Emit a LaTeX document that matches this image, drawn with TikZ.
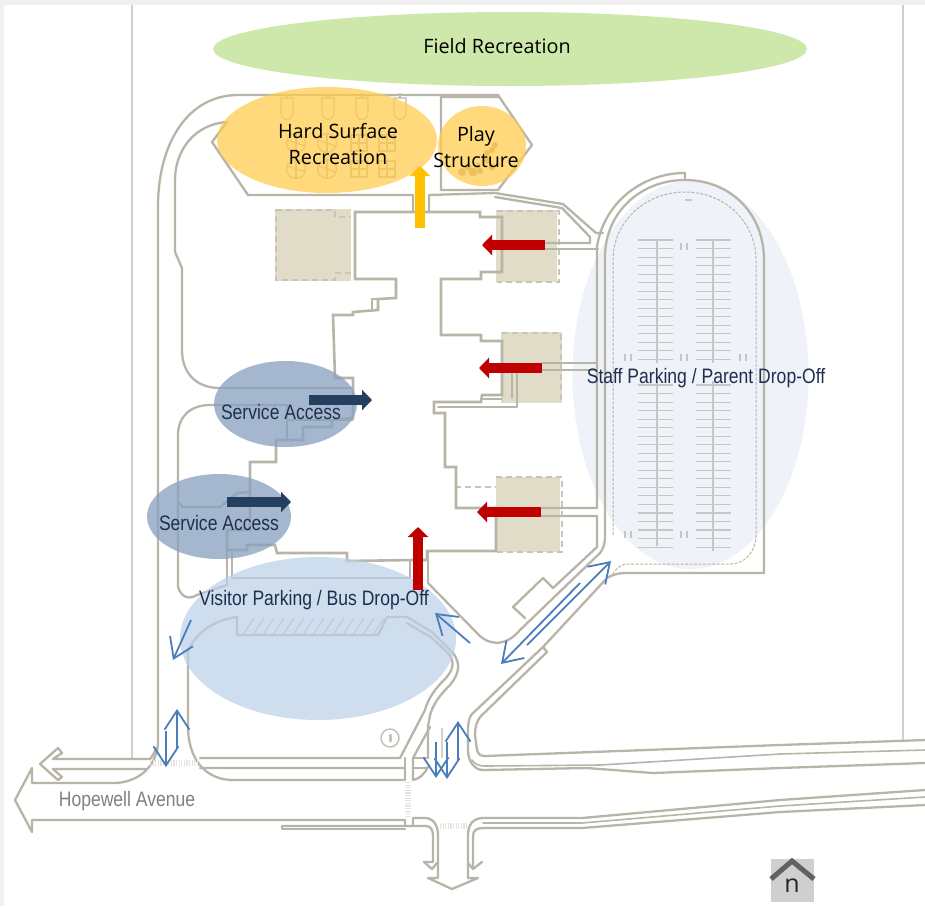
\documentclass[tikz,border=0pt]{standalone}
\usepackage{fontspec}
\usetikzlibrary{arrows.meta}
\newfontfamily\labelfont{Open Sans}
\newfontfamily\narrowfont[FakeStretch=0.84]{Liberation Sans}
\definecolor{road}{HTML}{B7B4A8}
\definecolor{lightroad}{HTML}{D2D0C8}
\definecolor{stall}{HTML}{C6C6C2}
\definecolor{beige}{HTML}{E0DCC8}
\definecolor{dashgray}{HTML}{C8C5B5}
\definecolor{redarrow}{HTML}{C00000}
\definecolor{amberarrow}{HTML}{FFC000}
\definecolor{navyarrow}{HTML}{243F60}
\definecolor{thinblue}{HTML}{4A7EBB}
\definecolor{inkblue}{HTML}{1F2F4F}
\definecolor{fieldgreen}{RGB}{206,232,172}
\definecolor{sunzone}{RGB}{255,205,79}
\definecolor{servicezone}{RGB}{136,160,192}
\definecolor{visitorzone}{RGB}{188,208,231}
\definecolor{staffzone}{HTML}{EFF2F8}
\tikzset{
  x=1pt,y=-1pt,
  roadline/.style={draw=road,line width=2.3pt,line join=round,line cap=round},
  thinroad/.style={draw=road,line width=1.6pt,line join=round,line cap=round},
  wall/.style={draw=road,line width=2.6pt,line join=miter},
  boundary/.style={draw=lightroad,line width=1.4pt},
  stallline/.style={draw=stall,line width=1.1pt},
  dashedge/.style={draw=dashgray,line width=1.3pt,dash pattern=on 6pt off 4pt},
  courtline/.style={draw=road!90!white,line width=1.2pt},
  crosswalk/.style={draw=lightroad!60!white,line width=6pt,dash pattern=on 1.2pt off 1.4pt},
  wing/.style={fill=beige,draw=none},
  block/.style={line width=10pt,-{Triangle[length=10pt,width=20pt]}},
  flow/.style={draw=thinblue,line width=1.8pt,-{Straight Barb[length=19pt,width=25pt,line width=1.8pt]}},
  softlabel/.style={font=\labelfont\fontsize{19.8}{25.5}\selectfont,text=black,align=center,inner sep=0pt},
  zonelabel/.style={font=\narrowfont\fontsize{20.9}{24}\selectfont,text=inkblue,inner sep=0pt},
}
\begin{document}
\begin{tikzpicture}
\useasboundingbox (0,0) rectangle (925,906);
\fill[black!6] (0,0) rectangle (925,906);
\fill[white] (4,5) rectangle (925,906);

% staff parking zone lies under the plan
\fill[staffzone] (690.5,375) ellipse[x radius=118,y radius=194];

% property boundaries
\draw[boundary] (132,5) -- (132,759);
\draw[boundary] (903,5) -- (903,741);

% wings
\fill[wing] (275,209) rectangle (351,281);
\fill[wing] (496,210) rectangle (557,282);
\fill[wing] (501,332) rectangle (562,403);
\fill[wing] (496,477) rectangle (560,552);
\draw[dashedge] (276,210) -- (335,210) -- (335,217) -- (351,217);
\draw[dashedge] (351,273) -- (335,273) -- (335,280) -- (276,280) -- (276,210);
\draw[dashedge] (497,211) -- (559,211) -- (559,282) -- (497,282);
\draw[dashedge] (502,333) -- (561,333) -- (561,403);
\draw[dashedge] (455,487) -- (496,487);
\draw[dashedge] (496,477) -- (562,477) -- (562,552) -- (496,552);

% building outline
\draw[wall] (355,212) -- (480,212) -- (480,217) -- (502,217) -- (502,272) -- (481,272) -- (481,279) -- (441,279) -- (441,335) -- (481,335) -- (481,341) -- (502,341) -- (502,395) -- (482,395) -- (481,402) -- (434,402) -- (434,413) -- (445,413) -- (445,467) -- (456,467) -- (456,508) -- (496,508) -- (496,551) -- (427,551) -- (427,560) -- (413,560) -- (347,561) -- (347,553) -- (277,553) -- (275,545) -- (247,545) -- (247,550) -- (227,550) -- (227,530) -- (250,530) -- (250,462) -- (276,462) -- (276,440) -- (303,440) -- (303,427) -- (332,427) -- (332,420) -- (353,418) -- (353,378) -- (335,378) -- (333,315) -- (353,315) -- (353,312) -- (378,310) -- (378,299) -- (396,298) -- (396,279) -- (355,279) -- cycle;
\draw[thinroad] (438,407) -- (517,407) -- (517,373);
\draw[thinroad] (512,398) -- (512,373);
\draw[thinroad] (483,399) -- (502,399);
\draw[thinroad] (378,299) -- (372,299) -- (372,310);
\draw[thinroad] (227,550) -- (227,585);
\draw[thinroad] (232,553) -- (232,578) -- (410,578) -- (410,560);
\draw[thinroad] (287,405) -- (287,440);
\draw[thinroad] (287,420) -- (353,420);
\draw[thinroad] (428,551) -- (428,583);

% outer drive, north-west loop
\draw[roadline] (158,745) -- (158,207) .. controls (158,140) and (190,95) .. (238,95) -- (498,95) -- (532,145) -- (498,190) -- (441,190) -- (441,97) -- (498,97);
\draw[roadline] (413,212) -- (413,195) -- (248,195) -- (212,142) -- (227,122) .. controls (195,124) and (175,150) .. (175,180) -- (175,252) -- (182,268) -- (182,350) .. controls (182,372) and (195,388) .. (220,388) -- (353,388);
% service yard
\draw[roadline] (287,405) -- (210,405) .. controls (190,405) and (178,417) .. (178,435) -- (178,502) -- (183,507) -- (220,507) -- (237,493) -- (250,492);
\draw[roadline] (178,502) -- (178,587) .. controls (182,599) and (190,599) .. (197,595) -- (227,585);
% link to play lot and staff lot
\draw[roadline] (429,212) -- (429,195) -- (495,193) -- (563,204) -- (596,233) -- (603,233);
\draw[roadline] (495,197) -- (562,208) -- (590,237) -- (590,243) -- (546,243);
\draw[roadline] (546,249) -- (598,249);
\draw[thinroad] (542,363) -- (597,363);
\draw[thinroad] (542,370) -- (597,370);
\draw[roadline] (542,508) -- (597,508) -- (597,247) .. controls (603,205) and (640,173) .. (685,173) -- (685,180);
\draw[roadline] (542,516) -- (597,516) -- (597,547) -- (553,588) -- (543,578) -- (513,607) -- (525,618);
\draw[roadline] (428,583) -- (477,633) .. controls (487,645) and (505,648) .. (520,630) -- (600,553) .. controls (603,549) and (605,545) .. (605,535) -- (605,257) .. controls (605,213) and (640,180) .. (685,180) .. controls (730,180) and (764,213) .. (764,260) -- (764,573) -- (625,573) .. controls (618,573) and (612,575) .. (607,578) -- (543,647) -- (472,714) .. controls (467,720) and (468,730) .. (468,750) .. controls (468,762) and (475,770) .. (483,770) -- (587,768) -- (653,773) -- (780,768) -- (925,763);
\draw[roadline] (543,647) -- (547,652) -- (481,716) .. controls (476,722) and (475,728) .. (475,735) -- (477,750) .. controls (478,754) and (480,756) .. (485,756) -- (780,745) -- (925,740);
\draw[thinroad] (472,760) .. controls (475,764) and (478,766) .. (486,766) -- (600,765) -- (780,754) -- (925,750);

% dashed lot curb
\draw[draw=road,line width=1pt,dash pattern=on 3pt off 1.5pt] (613,535) -- (613,260) .. controls (613,222) and (645,192) .. (685,192) .. controls (725,192) and (756,222) .. (756,260) -- (756,537) .. controls (755,552) and (745,564) .. (730,564) -- (627,564) .. controls (620,564) and (615,570) .. (612,575);

% stalls
\foreach \i in {0,...,36}{
  \pgfmathsetmacro{\yy}{240+\i*8.53}
  \ifnum\i=15 \else\ifnum\i=16 \else
  \draw[stallline] (638,\yy) -- (673,\yy);
  \draw[stallline] (696,\yy) -- (731,\yy);
  \fi\fi
}
\draw[stallline] (657,240) -- (657,363);
\draw[stallline] (657,381) -- (657,546);
\draw[stallline] (713,240) -- (713,363);
\draw[stallline] (713,381) -- (713,551);
\foreach \px/\py in {684/246,628/357,684/357,743/357,628/534,684/534}{
  \draw[draw=stall,line width=1.4pt] (\px-3,\py-3.5) -- (\px-3,\py+3.5);
  \draw[draw=stall,line width=1.4pt] (\px+3,\py-3.5) -- (\px+3,\py+3.5);
}
\draw[stallline] (685,200) -- (692,200);

% visitor lot
\draw[roadline] (188,730) -- (188,652) .. controls (195,632) and (215,620) .. (237,617) -- (237,635) -- (378,635) -- (387,617) -- (407,617) -- (432,632) -- (453,653) .. controls (462,665) and (458,675) .. (450,685) .. controls (438,697) and (433,705) .. (430,715) -- (428,727) -- (428,758);
\draw[roadline] (407,623) -- (432,638) -- (447,652) .. controls (457,662) and (452,672) .. (444,680) .. controls (432,692) and (427,702) .. (425,710) -- (400,758) -- (200,758);
\foreach \hx in {243,253,...,373}{\draw[draw=road,line width=1pt] (\hx,635) -- (\hx+11,618);}
\draw[roadline] (188,730) .. controls (190,765) and (210,780) .. (233,780) -- (405,780) -- (405,768) -- (200,768);
\draw[roadline] (405,758) -- (405,768);
\draw[roadline] (413,758) -- (430,727);
\draw[roadline] (413,758) -- (428,758);
\draw[roadline] (413,768) -- (427,768);
\draw[roadline] (413,758) -- (413,780) .. controls (420,779) and (425,773) .. (428,767);
\draw[draw=road!80!white,line width=1.5pt] (390,738) circle[radius=9];
\draw[draw=road!80!white,line width=3pt,line cap=round] (390,735) -- (390,741);
\draw[draw=lightroad,line width=1.3pt] (442,728) -- (442,758);

% Hopewell Avenue, north edge
\draw[roadline] (158,745) .. controls (155,770) and (135,783) .. (113,783) -- (32,783) -- (32,768) -- (15,800) -- (32,832) -- (32,820) -- (405,820) -- (405,826);
\draw[roadline] (150,759) -- (53,759) -- (62,753) -- (58,748) -- (40,764) -- (58,780) -- (62,777) -- (53,769) -- (147,769);
\draw[roadline] (150,759) .. controls (152,757) and (155,752) .. (156,748);
% exit road
\draw[roadline] (413,826) -- (413,818) -- (425,818) .. controls (433,818) and (438,825) .. (438,835) -- (438,878) -- (428,878) -- (452,889) -- (478,878) -- (468,878) -- (468,835) .. controls (468,825) and (473,818) .. (483,818) -- (582,818) -- (780,800) -- (925,790);
\draw[roadline] (282,826) -- (426,826) .. controls (431,826) and (433,830) .. (433,836) -- (433,862) -- (424,862) -- (432,869) -- (437,863);
\draw[roadline] (473,869) -- (473,836) .. controls (473,830) and (477,828) .. (483,828) -- (582,828) -- (780,812) -- (925,805);
\draw[roadline] (473,869) -- (482,862);
\draw[roadline] (473,869) -- (468,863);
\draw[thinroad] (483,823) -- (582,823) -- (780,806) -- (925,797);
\draw[roadline] (282,826) -- (282,829) -- (405,829);

% crosswalks
\draw[crosswalk] (150,763) -- (197,763);
\draw[crosswalk] (408,782) -- (408,817);
\draw[crosswalk] (440,826) -- (468,826);

% courts
\foreach \cx in {287,328,362,400}{
  \draw[courtline] (\cx-6,98) -- (\cx-6,112) .. controls (\cx-6,122) and (\cx+6,122) .. (\cx+6,112) -- (\cx+6,98) -- cycle;
  \draw[courtline] (\cx,93) -- (\cx,98);
}
\foreach \cy in {143,169}{
  \foreach \cx in {296,327}{
    \draw[courtline] (\cx,\cy) circle[radius=9.5];
    \draw[courtline] (\cx-9,\cy-3) -- (\cx+9,\cy+3);
    \draw[courtline] (\cx,\cy-9) -- (\cx,\cy+9);
  }
  \foreach \cx in {359,387}{
    \draw[courtline] (\cx-8,\cy-8) rectangle (\cx+8,\cy+8);
    \draw[courtline] (\cx-8,\cy) -- (\cx+8,\cy);
    \draw[courtline] (\cx,\cy-8) -- (\cx,\cy+8);
  }
}
% play equipment
\foreach \ex/\ey/\er in {462/172/4,468/167/3.5,473/172/4.5,480/171/3,487/160/3.5,492/167/3.5,492/150/3,495/145/3,487/153/3,478/166/3}{
  \fill[road!70!brown] (\ex,\ey) circle[radius=\er];
}

% zones
\fill[fieldgreen] (510,49) ellipse[x radius=297,y radius=37];
\fill[sunzone,opacity=.75] (327,140) ellipse[x radius=110,y radius=53];
\fill[sunzone,opacity=.75] (482,146) ellipse[x radius=44,y radius=40];
\fill[servicezone,opacity=.75] (285.5,404) ellipse[x radius=71.5,y radius=43];
\fill[servicezone,opacity=.75] (219,516.5) ellipse[x radius=72,y radius=42.5];
\fill[visitorzone,opacity=.7] (318,638.5) ellipse[x radius=138,y radius=81.5];

% block arrows
\coordinate (r1a) at (545,245); \coordinate (r1b) at (482,245);
\coordinate (r2a) at (542,368); \coordinate (r2b) at (479,368);
\coordinate (r3a) at (541,512); \coordinate (r3b) at (477,512);
\coordinate (r4a) at (418,590); \coordinate (r4b) at (418,527);
\coordinate (y1a) at (420,228); \coordinate (y1b) at (420,166);
\coordinate (n1a) at (309,400); \coordinate (n1b) at (372,400);
\coordinate (n2a) at (227,502); \coordinate (n2b) at (291,502);
\draw[block,redarrow] (r1a) -- (r1b);
\draw[block,redarrow] (r2a) -- (r2b);
\draw[block,redarrow] (r3a) -- (r3b);
\draw[block,redarrow] (r4a) -- (r4b);
\draw[block,amberarrow] (y1a) -- (y1b);
\draw[block,navyarrow] (n1a) -- (n1b);
\draw[block,navyarrow] (n2a) -- (n2b);

% flow arrows
\coordinate (f1a) at (191,620); \coordinate (f1b) at (173,660);
\coordinate (f2a) at (470,643); \coordinate (f2b) at (435,613);
\coordinate (f3a) at (527,645); \coordinate (f3b) at (611,561);
\coordinate (f4a) at (580,583); \coordinate (f4b) at (501,664);
\coordinate (f5a) at (177,748); \coordinate (f5b) at (177,709);
\coordinate (f6a) at (166,731); \coordinate (f6b) at (166,767);
\coordinate (f7a) at (436,742); \coordinate (f7b) at (436,778);
\coordinate (f8a) at (447,742); \coordinate (f8b) at (447,779);
\coordinate (f9a) at (458,761); \coordinate (f9b) at (458,721);
\foreach \k in {1,...,9}{\draw[flow] (f\k a) -- (f\k b);}

% labels
\node[softlabel] (field) at (497,46) {Field Recreation};
\node[softlabel] (hard) at (338,144) {Hard Surface\\Recreation};
\node[softlabel] (play) at (476,147) {Play\\Structure};
\node[zonelabel] (svc1) at (281,412) {Service Access};
\node[zonelabel] (svc2) at (219,523) {Service Access};
\node[zonelabel] (visitor) at (314,600) {Visitor Parking / Bus Drop-Off};
\node[zonelabel] (staff) at (706,378) {Staff Parking / Parent Drop-Off};
\node[zonelabel,text=black!50] (ave) at (127,801) {Hopewell Avenue};

% north marker
\fill[black!19] (771,859) rectangle (814,902);
\draw[draw=black!62,line width=5pt,line join=miter] (771,879) -- (792,861) -- (814,879);
\node[font=\labelfont\fontsize{25}{25}\selectfont,text=black!85,inner sep=0pt] (north) at (792,886) {n};
\end{tikzpicture}
\end{document}
